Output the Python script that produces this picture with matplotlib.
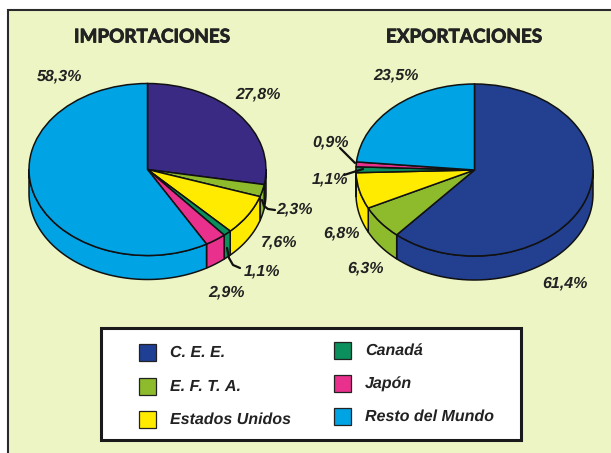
import numpy as np
import matplotlib
matplotlib.use("Agg")
import matplotlib.pyplot as plt
import matplotlib.patheffects as pe
from matplotlib.patches import Rectangle

W, H = 611, 453
BG = "#EEF5C5"

categories = ["C. E. E.", "E. F. T. A.", "Estados Unidos", "Canadá", "Japón", "Resto del Mundo"]
imports_pct = [27.8, 2.3, 7.6, 1.1, 2.9, 58.3]
exports_pct = [61.4, 6.3, 6.8, 1.1, 0.9, 23.5]
imports_labels = ["27,8%", "2,3%", "7,6%", "1,1%", "2,9%", "58,3%"]
exports_labels = ["61,4%", "6,3%", "6,8%", "1,1%", "0,9%", "23,5%"]
legend_colors = ["#1F3F94", "#8DBB2B", "#FFEB00", "#0B8F5C", "#E8308C", "#00A3E4"]
imports_colors = ["#3B2A84"] + legend_colors[1:]
exports_colors = ["#22408F"] + legend_colors[1:]

plt.rcParams["font.family"] = ["Liberation Sans", "DejaVu Sans"]
plt.rcParams["text.hinting"] = "none"
plt.rcParams["text.hinting_factor"] = 1
TXT = "#222222"

fig = plt.figure(figsize=(W / 100, H / 100), dpi=100, facecolor="white")
bg = fig.add_axes([0, 0, 1, 1])
bg.set_xlim(0, W)
bg.set_ylim(H, 0)
bg.axis("off")
# tinted page, cut by the scan on the left and at the top
bg.add_patch(Rectangle((7.5, 10), W, H, facecolor=BG, edgecolor="#2A2A2A", lw=1.5))


# pie on its own axes, stretched to an ellipse, with the rim below it
def draw_pie(values, colors, cx, cy, rx, ry, depth):
    ax = fig.add_axes([(cx - rx) / W, 1 - (cy + ry + depth) / H, 2 * rx / W, (2 * ry + depth) / H])
    d = depth / ry
    angle = 90.0
    for v, c in zip(values, colors):
        next_angle = angle - v * 3.6
        lo, hi = max(next_angle, -180.0), min(angle, 0.0)
        if hi > lo:
            t = np.radians(np.linspace(lo, hi, 60))
            xs = np.r_[np.cos(t), np.cos(t[::-1])]
            ys = np.r_[np.sin(t), np.sin(t[::-1]) - d]
            ax.fill(xs, ys, facecolor=c, edgecolor="#111111", lw=1.1, joinstyle="round")
        angle = next_angle
    ax.pie(values, colors=colors, startangle=90, counterclock=False, radius=1,
           wedgeprops={"edgecolor": "#111111", "linewidth": 1.1})
    ax.set_aspect("auto")
    ax.set_xlim(-1, 1)
    ax.set_ylim(-1 - d, 1)
    ax.axis("off")
    for s in ax.patches + ax.lines:
        s.set_clip_on(False)


draw_pie(imports_pct, imports_colors, 147.5, 169.5, 118.5, 86, 24)
draw_pie(exports_pct, exports_colors, 474.5, 170, 118.5, 86, 24)

top = fig.add_axes([0, 0, 1, 1])
top.set_xlim(0, W)
top.set_ylim(H, 0)
top.axis("off")
top.patch.set_alpha(0)

# titles, thickened a bit since the original face is heavier
heavy = [pe.withStroke(linewidth=0.6, foreground=TXT)]
top.text(152.5, 37, "IMPORTACIONES", family="Lato", fontsize=13.6, fontweight="bold", color=TXT,
         ha="center", va="center", path_effects=heavy)
top.text(464.5, 37, "EXPORTACIONES", family="Lato", fontsize=13.6, fontweight="bold", color=TXT,
         ha="center", va="center", path_effects=heavy)

# value labels
imports_pos = [(258, 94), (295, 209.5), (279, 242.5), (262, 271.5), (226, 292.5), (60, 76.5)]
exports_pos = [(565, 283.5), (366, 268.5), (341, 233.5), (330, 179.5), (331, 142.5), (396, 75.5)]
for lab, (x, y) in zip(imports_labels, imports_pos):
    top.text(x, y, lab, fontsize=11.6, fontweight="bold", fontstyle="italic", color=TXT, ha="center", va="center")
for lab, (x, y) in zip(exports_labels, exports_pos):
    top.text(x, y, lab, fontsize=11.6, fontweight="bold", fontstyle="italic", color=TXT, ha="center", va="center")

# leader lines
leaders = [
    ([262, 264, 268, 275], [200, 206, 209, 210]),
    ([227, 229, 233, 240], [248, 258, 265, 268]),
    ([340, 355], [148, 163]),
    ([344, 363], [175, 169]),
]
for xs, ys in leaders:
    top.plot(xs, ys, color="#111111", lw=1.6, solid_capstyle="round")

# legend box
top.add_patch(Rectangle((100.5, 328), 420, 112, facecolor="white", edgecolor="#1A1A1A", lw=2.2))
legend_pos = [(139, 344), (139, 378), (139, 411), (334, 342), (334, 375), (334, 408)]
for name, color, (x, y) in zip(categories, legend_colors, legend_pos):
    top.add_patch(Rectangle((x, y), 17, 17, facecolor=color, edgecolor="#222222", lw=0.9))
    top.text(x + 31, y + 9, name, fontsize=11.2, fontweight="bold", fontstyle="italic", color=TXT, ha="left", va="center")

fig.savefig("out.png", dpi=100, facecolor="white")
